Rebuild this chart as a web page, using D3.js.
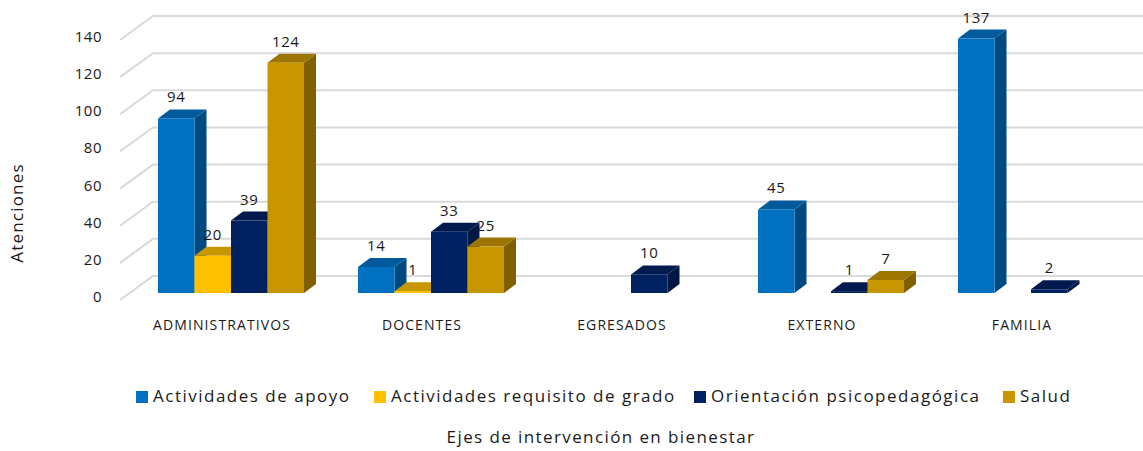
<!DOCTYPE html>
<html>
<head>
<meta charset="utf-8">
<script src="https://cdn.jsdelivr.net/npm/d3@7"></script>
<style>
  body { margin: 0; background: #fff; }
  text { font-family: "Open Sans", sans-serif; fill: #1a1a1a; }
</style>
</head>
<body>
<div id="chart"></div>
<script>
// categories and series
var categories = ["ADMINISTRATIVOS", "DOCENTES", "EGRESADOS", "EXTERNO", "FAMILIA"];
var seriesNames = ["Actividades de apoyo", "Actividades requisito de grado",
                   "Orientación psicopedagógica", "Salud"];
// null = no bar
var apoyo      = [94, 14, null, 45, 137];
var requisito  = [20, 1, null, null, null];
var orientacion = [39, 33, 10, 1, 2];
var salud      = [124, 25, null, 7, null];
var yTicks = [0, 20, 40, 60, 80, 100, 120, 140];

var seriesValues = [apoyo, requisito, orientacion, salud];

// front, top, side colours
var colors = [
  {front: "#0070C0", top: "#005A9C", side: "#004A80"},
  {front: "#FFC000", top: "#C89600", side: "#806000"},
  {front: "#002060", top: "#001A4E", side: "#001644"},
  {front: "#C89600", top: "#9C7600", side: "#806000"}
];

var width = 1143, height = 451;

var svg = d3.select("#chart").append("svg")
  .attr("width", width)
  .attr("height", height);

// floor / wall geometry
var floorY = 300, leftX = 120;
var wallDx = 33, wallDy = -24;
var barDx = 12, barDy = -9;
var barBase = 293;

var y = d3.scaleLinear().domain([0, 140]).range([0, 260]);

var x = d3.scaleBand().domain(categories).range([131, 1131]);
var xInner = d3.scaleBand().domain(seriesNames).range([27, 173]);

// gridlines
var grid = svg.append("g");
yTicks.forEach(function(t) {
  var yy = floorY - y(t);
  grid.append("path")
    .attr("d", "M" + leftX + "," + yy + "L" + (leftX + wallDx) + "," + (yy + wallDy) + "L" + width + "," + (yy + wallDy))
    .attr("fill", "none")
    .attr("stroke", "#d9d9d9")
    .attr("stroke-width", 2);
  svg.append("text")
    .attr("x", 102)
    .attr("y", yy - 2)
    .attr("text-anchor", "end")
    .attr("dominant-baseline", "middle")
    .style("font-size", "15px")
    .style("letter-spacing", "0.5px")
    .text(t);
});

// bars
var bars = svg.append("g");
var labels = [];
categories.forEach(function(c, ci) {
  seriesNames.forEach(function(s, si) {
    var v = seriesValues[si][ci];
    if (v == null) return;
    var x0 = x(c) + xInner(s), w = xInner.bandwidth();
    var top = barBase - y(v);
    var col = colors[si];
    // side
    bars.append("path")
      .attr("d", "M" + (x0 + w) + "," + barBase + "L" + (x0 + w + barDx) + "," + (barBase + barDy) +
                 "L" + (x0 + w + barDx) + "," + (top + barDy) + "L" + (x0 + w) + "," + top + "Z")
      .attr("fill", col.side);
    // top
    bars.append("path")
      .attr("d", "M" + x0 + "," + top + "L" + (x0 + barDx) + "," + (top + barDy) +
                 "L" + (x0 + w + barDx) + "," + (top + barDy) + "L" + (x0 + w) + "," + top + "Z")
      .attr("fill", col.top);
    // front
    bars.append("rect")
      .attr("x", x0).attr("y", top)
      .attr("width", w).attr("height", y(v))
      .attr("fill", col.front);
    labels.push({x: x0 + w / 2, y: top - 20, v: v});
  });
});

svg.append("g").selectAll("text")
  .data(labels)
  .enter().append("text")
  .attr("x", function(d) { return d.x; })
  .attr("y", function(d) { return d.y; })
  .attr("text-anchor", "middle")
  .attr("dominant-baseline", "middle")
  .style("font-size", "15px")
  .style("letter-spacing", "0.6px")
  .text(function(d) { return d.v; });

// category labels
svg.append("g").selectAll("text")
  .data(categories)
  .enter().append("text")
  .attr("x", function(d) { return x(d) + x.bandwidth() / 2 - 9; })
  .attr("y", 326)
  .attr("text-anchor", "middle")
  .attr("dominant-baseline", "middle")
  .style("font-size", "14px")
  .style("letter-spacing", "1.1px")
  .text(function(d) { return d; });

// y title
svg.append("text")
  .attr("transform", "translate(18,213) rotate(-90)")
  .attr("text-anchor", "middle")
  .attr("dominant-baseline", "middle")
  .style("font-size", "17px")
  .style("letter-spacing", "1.2px")
  .text("Atenciones");

// legend
var legendX = [136, 374, 694, 1003];
var legend = svg.append("g");
seriesNames.forEach(function(s, i) {
  legend.append("rect")
    .attr("x", legendX[i]).attr("y", 391)
    .attr("width", 12).attr("height", 12)
    .attr("fill", colors[i].front);
  legend.append("text")
    .attr("x", legendX[i] + 17)
    .attr("y", 397)
    .attr("dominant-baseline", "middle")
    .style("font-size", "17px")
    .style("letter-spacing", "1.5px")
    .text(s);
});

// x title
svg.append("text")
  .attr("x", 601)
  .attr("y", 438)
  .attr("text-anchor", "middle")
  .attr("dominant-baseline", "middle")
  .style("font-size", "17px")
  .style("letter-spacing", "1.4px")
  .text("Ejes de intervención en bienestar");
</script>
</body>
</html>
